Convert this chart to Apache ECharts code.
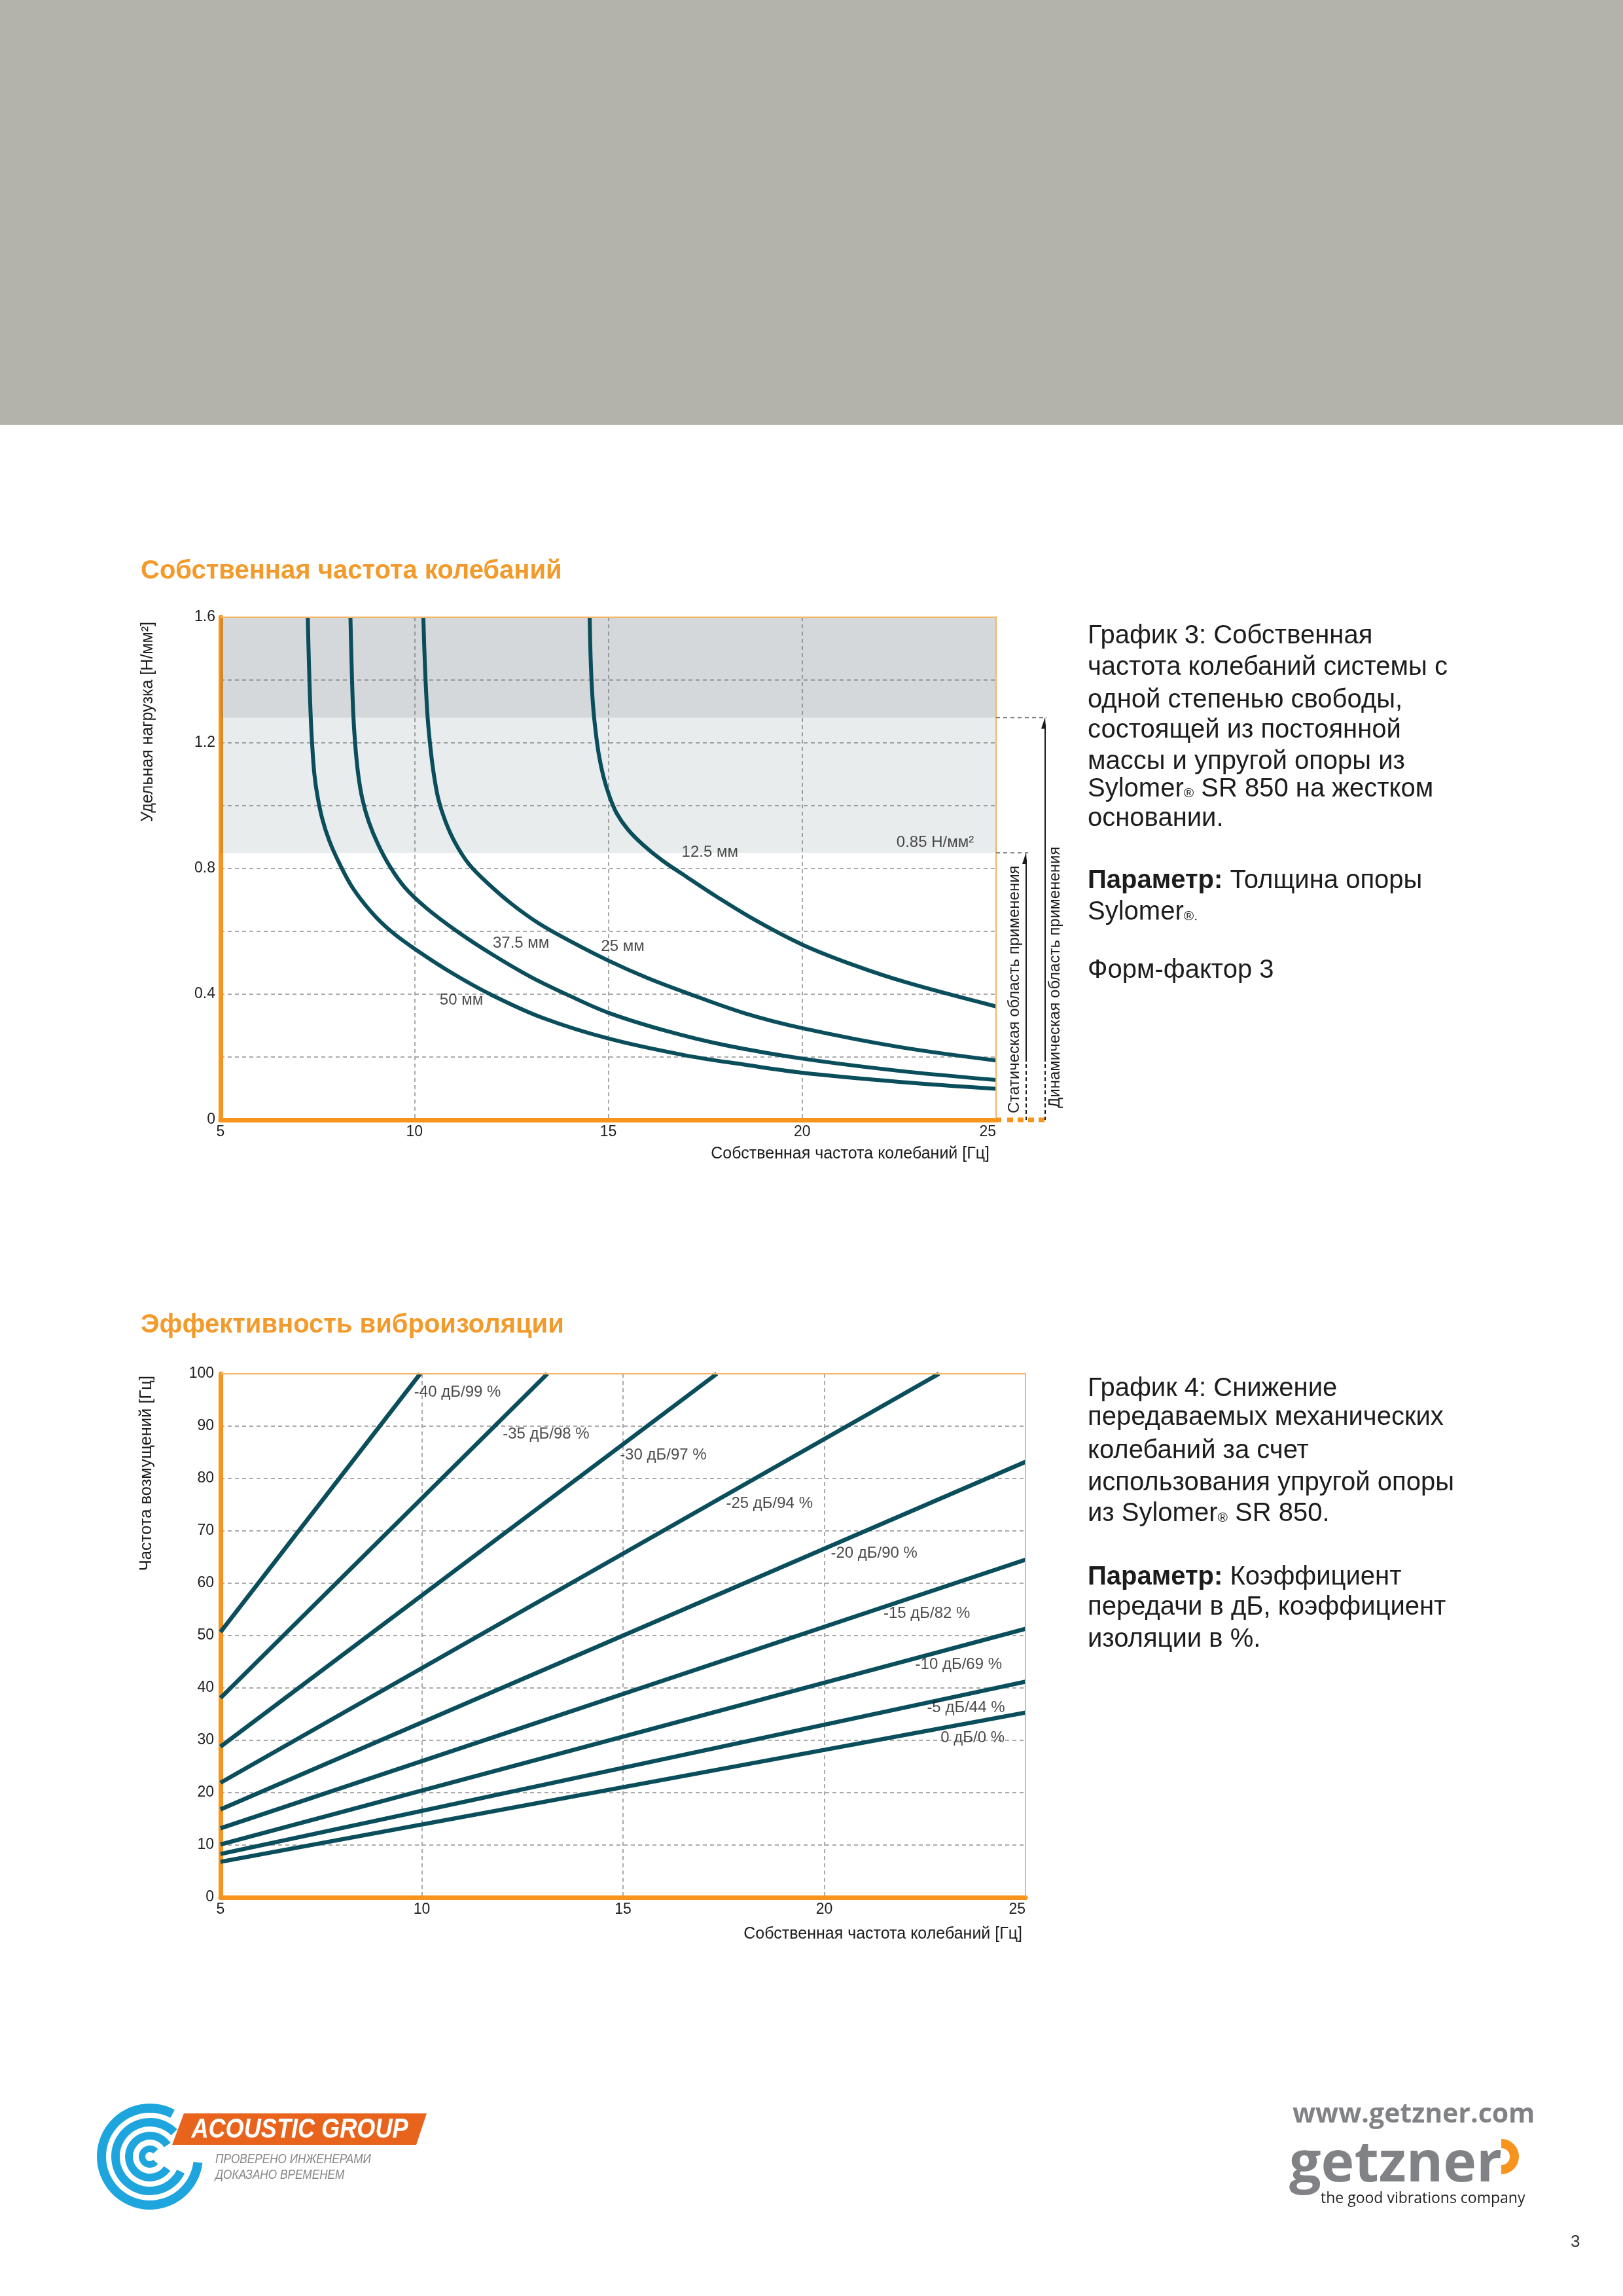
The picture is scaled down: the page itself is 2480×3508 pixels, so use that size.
<!DOCTYPE html>
<html><head><meta charset="utf-8">
<script src="https://cdn.jsdelivr.net/npm/echarts/dist/echarts.min.js"></script>
<style>html,body{margin:0;padding:0;background:#fff;}#page{width:2480px;height:3508px;}</style>
</head><body><div id="page"></div>
<script>
// ---------------- DATA ----------------
// Chart 3: natural frequency [Hz] (x) vs specific load [N/mm2] (y)
const freqTicks = [5, 10, 15, 20, 25];
const loadTickLabels = [0, 0.4, 0.8, 1.2, 1.6];
const curveNames = ['50 мм', '37.5 мм', '25 мм', '12.5 мм'];
const curve50mm = [[7.25,1.6],[7.28,1.45],[7.32,1.3],[7.36,1.2],[7.42,1.1],[7.5,1.03],[7.62,0.96],[7.8,0.89],[8.05,0.82],[8.4,0.74],[8.9,0.66],[9.4,0.60],[10.0,0.545],[11.0,0.465],[12.0,0.397],[13.3,0.325],[15.0,0.259],[17.0,0.205],[18.5,0.176],[20.0,0.150],[22.5,0.121],[25.0,0.099]];
const curve37mm = [[8.35,1.6],[8.38,1.45],[8.42,1.3],[8.47,1.2],[8.55,1.1],[8.66,1.02],[8.82,0.95],[9.05,0.88],[9.35,0.81],[9.75,0.74],[10.3,0.675],[11.1,0.60],[12.0,0.527],[13.0,0.455],[14.0,0.395],[15.0,0.341],[16.5,0.283],[18.0,0.238],[20.0,0.195],[22.5,0.156],[25.0,0.127]];
const curve25mm = [[10.23,1.6],[10.27,1.45],[10.33,1.3],[10.4,1.2],[10.5,1.1],[10.62,1.02],[10.8,0.95],[11.05,0.882],[11.4,0.815],[11.9,0.752],[12.5,0.688],[13.2,0.626],[14.0,0.57],[15.0,0.507],[16.0,0.452],[17.0,0.405],[18.5,0.34],[20.0,0.292],[22.5,0.232],[25.0,0.189]];
const curve12mm = [[14.52,1.6],[14.55,1.45],[14.6,1.33],[14.67,1.24],[14.76,1.16],[14.88,1.09],[15.03,1.03],[15.22,0.975],[15.5,0.925],[15.9,0.875],[16.4,0.825],[17.0,0.775],[17.8,0.71],[18.8,0.635],[20.0,0.558],[21.3,0.494],[22.7,0.437],[25.0,0.361]];
const curveLabelTexts = ['50 мм', '37.5 мм', '25 мм', '12.5 мм', '0.85 Н/мм²'];
const curveLabelX = [10.65, 12.02, 14.81, 16.89, 22.43];
const curveLabelY = [0.38, 0.562, 0.552, 0.851, 0.883];
const staticLimit = 0.85;
const dynamicLimit = 1.28;
const loadMax = 1.6;

// Chart 4: natural frequency [Hz] (x) vs excitation frequency [Hz] (y)
const excitTickLabels = [0, 10, 20, 30, 40, 50, 60, 70, 80, 90, 100];
const isoNames = ['0 дБ/0 %', '-5 дБ/44 %', '-10 дБ/69 %', '-15 дБ/82 %', '-20 дБ/90 %', '-25 дБ/94 %', '-30 дБ/97 %', '-35 дБ/98 %', '-40 дБ/99 %'];
const isoStartX = [5, 5, 5, 5, 5, 5, 5, 5, 5];
const isoStartY = [6.8, 8.3, 10.1, 13.2, 16.8, 21.9, 28.8, 38.1, 50.7];
const isoEndX = [25, 25, 25, 25, 25, 22.85, 17.33, 13.12, 9.96];
const isoEndY = [35.3, 41.2, 51.3, 64.5, 83.2, 100, 100, 100, 100];
const isoLabelX = [22.89, 22.55, 22.26, 21.47, 20.16, 17.56, 14.92, 12.01, 9.81];
const isoLabelY = [30.4, 36.2, 44.4, 54.2, 65.7, 75.2, 84.4, 88.5, 96.4];

// ---------------- STYLE ----------------
const FONT = '"Liberation Sans", Arial, sans-serif';
const ORANGE = '#f7941d';
const TEAL = '#0b4e5b';
const TXT = '#1c1c1c';

const chart = echarts.init(document.getElementById('page'), null, {renderer: 'canvas', width: 2480, height: 3508});

const gridLine = {show: true, showMinLine: false, showMaxLine: false, lineStyle: {color: '#8e8e8e', width: 1.5, type: [6, 5]}};
const labelStyle = {color: TXT, fontSize: 23, fontFamily: FONT};

function xAxisCfg(gi) {
  return {
    gridIndex: gi, type: 'value', min: freqTicks[0], max: freqTicks[freqTicks.length - 1], interval: 5,
    axisLine: {show: true, onZero: false, lineStyle: {color: ORANGE, width: 7}},
    axisTick: {show: false}, splitLine: gridLine,
    axisLabel: Object.assign({margin: 7, alignMaxLabel: 'right',
      formatter: v => freqTicks.includes(v) ? String(v) : ''}, labelStyle)
  };
}

const series = [];
// shaded application ranges
series.push({
  type: 'line', xAxisIndex: 0, yAxisIndex: 0, z: 1, data: [[5, 0]], showSymbol: false,
  lineStyle: {opacity: 0}, silent: true,
  markArea: {silent: true, data: [
    [{yAxis: staticLimit, itemStyle: {color: 'rgba(25,65,75,0.10)'}}, {yAxis: dynamicLimit}],
    [{yAxis: dynamicLimit, itemStyle: {color: 'rgba(83,99,107,0.25)'}}, {yAxis: loadMax}]
  ]}
});
[curve50mm, curve37mm, curve25mm, curve12mm].forEach((d, i) => {
  series.push({type: 'line', name: curveNames[i], xAxisIndex: 0, yAxisIndex: 0, z: 3, data: d,
    showSymbol: false, smooth: 0.35, lineStyle: {color: TEAL, width: 6, join: 'round'}, clip: true});
});
series.push({type: 'scatter', xAxisIndex: 0, yAxisIndex: 0, z: 4, symbolSize: 0.1,
  itemStyle: {color: 'rgba(0,0,0,0)'},
  data: curveLabelTexts.map((t, i) => ({name: t, value: [curveLabelX[i], curveLabelY[i]]})),
  label: {show: true, position: 'right', distance: 0, formatter: '{b}', color: TXT, fontSize: 24, fontFamily: FONT}
});
isoNames.forEach((n, i) => {
  series.push({type: 'line', name: n, xAxisIndex: 1, yAxisIndex: 1, z: 3,
    data: [[isoStartX[i], isoStartY[i]], [isoEndX[i], isoEndY[i]]],
    showSymbol: false, lineStyle: {color: TEAL, width: 6.5}, clip: true});
});
series.push({type: 'scatter', xAxisIndex: 1, yAxisIndex: 1, z: 4, symbolSize: 0.1,
  itemStyle: {color: 'rgba(0,0,0,0)'},
  data: isoNames.map((t, i) => ({name: t, value: [isoLabelX[i], isoLabelY[i]]})),
  label: {show: true, position: 'right', distance: 0, formatter: '{b}', color: TXT, fontSize: 24, fontFamily: FONT}
});

const option = {
  backgroundColor: '#ffffff',
  animation: false,
  grid: [
    {left: 337, top: 943, width: 1185, height: 768, show: true, borderColor: '#f6b465', borderWidth: 2, containLabel: false, outerBoundsMode: 'none'},
    {left: 337, top: 2099, width: 1230, height: 800, show: true, borderColor: '#f6b465', borderWidth: 2, containLabel: false, outerBoundsMode: 'none'}
  ],
  xAxis: [xAxisCfg(0), xAxisCfg(1)],
  yAxis: [
    {gridIndex: 0, type: 'value', min: 0, max: loadMax, interval: 0.2,
      axisLine: {show: true, onZero: false, lineStyle: {color: ORANGE, width: 7}},
      axisTick: {show: false}, splitLine: gridLine,
      axisLabel: Object.assign({margin: 8, formatter: v => loadTickLabels.some(t => Math.abs(t - v) < 1e-6) ? String(Math.round(v * 10) / 10) : ''}, labelStyle)},
    {gridIndex: 1, type: 'value', min: 0, max: 100, interval: 10,
      axisLine: {show: true, onZero: false, lineStyle: {color: ORANGE, width: 7}},
      axisTick: {show: false}, splitLine: gridLine,
      axisLabel: Object.assign({margin: 10, formatter: v => excitTickLabels.includes(v) ? String(v) : ''}, labelStyle)}
  ],
  series: series
};
chart.setOption(option);

// ---------------- PAGE DECORATION ----------------
const P = (gi, x, y) => chart.convertToPixel({gridIndex: gi}, [x, y]);
const g = [];
let gid = 0;
function txt(x, y, text, o) {
  o = o || {};
  g.push({type: 'text', id: 't' + (gid++), x: x, y: y, rotation: o.rotation || 0, scaleX: o.scaleX || 1, z: 10,
    style: {text: text, fill: o.fill || TXT, fontSize: o.fontSize || 24, fontFamily: o.fontFamily || FONT,
      fontWeight: o.fontWeight || 'normal', fontStyle: o.fontStyle || 'normal',
      textAlign: o.align || 'left', textVerticalAlign: o.valign || 'middle', rich: o.rich}});
}
function line(x1, y1, x2, y2, stroke, w, dash) {
  g.push({type: 'line', id: 'l' + (gid++), z: 10, shape: {x1, y1, x2, y2},
    style: {stroke: stroke, lineWidth: w, lineDash: dash || null}});
}
function poly(points, fill) {
  g.push({type: 'polygon', id: 'p' + (gid++), z: 10, shape: {points: points}, style: {fill: fill}});
}

// top gray band
g.push({type: 'rect', id: 'band', z: 0, shape: {x: 0, y: 0, width: 2480, height: 649}, style: {fill: '#b3b3aa'}});

// titles
txt(215, 873, 'Собственная частота колебаний', {fill: '#f39a2b', fontSize: 40, fontWeight: 'bold'});
txt(215, 2025, 'Эффективность виброизоляции', {fill: '#f39a2b', fontSize: 40, fontWeight: 'bold'});

// thin top/right plot borders drawn above grid lines
[0, 1].forEach(gi => {
  const tl = P(gi, 5, gi === 0 ? loadMax : 100), br = P(gi, 25, 0);
  line(tl[0], tl[1], br[0], tl[1], '#f6b465', 2);
  line(br[0], tl[1], br[0], br[1], '#f6b465', 2);
});

// axis names
txt(226, 950, 'Удельная нагрузка [Н/мм²]', {rotation: Math.PI / 2, align: 'right', fontSize: 25});
txt(224, 2102, 'Частота возмущений [Гц]', {rotation: Math.PI / 2, align: 'right', fontSize: 25.5});
const b0 = P(0, 25, 0), b1 = P(1, 25, 0);
txt(b0[0] - 10, b0[1] + 52, 'Собственная частота колебаний [Гц]', {align: 'right', fontSize: 25});
txt(b1[0] - 5, b1[1] + 56, 'Собственная частота колебаний [Гц]', {align: 'right', fontSize: 25});

// application range annotation (chart 3)
const ys = P(0, 25, staticLimit)[1], yd = P(0, 25, dynamicLimit)[1], xr = b0[0], y0 = b0[1];
const xs = xr + 46, xd = xr + 75;
line(xr, ys, xs + 3, ys, '#666', 1.5, [6, 5]);
line(xr, yd, xd + 3, yd, '#666', 1.5, [6, 5]);
line(xs, ys + 10, xs, y0 - 95, '#1a1a1a', 2);
line(xs, y0 - 95, xs, y0, '#1a1a1a', 2, [6, 4]);
line(xd, yd + 10, xd, y0 - 95, '#1a1a1a', 2);
line(xd, y0 - 95, xd, y0, '#1a1a1a', 2, [6, 4]);
poly([[xs, ys - 1], [xs - 6, ys + 17], [xs + 1, ys + 17]], '#1a1a1a');
poly([[xd, yd - 1], [xd - 6, yd + 17], [xd + 1, yd + 17]], '#1a1a1a');
line(xr, y0, xr + 8, y0, ORANGE, 7);
line(xr + 17, y0, xd, y0, ORANGE, 7, [9, 7]);
txt(xs - 18, y0 - 10, 'Статическая область применения', {rotation: Math.PI / 2, fontSize: 24});
txt(xd + 15, y0 - 18, 'Динамическая область применения', {rotation: Math.PI / 2, fontSize: 24});

// right-hand descriptive texts
const rich = {
  n: {fontSize: 40, fontFamily: FONT, fill: TXT},
  b: {fontSize: 40, fontFamily: FONT, fontWeight: 'bold', fill: TXT},
  r: {fontSize: 21, fontFamily: FONT, fill: TXT, padding: [13, 0, 0, 0]}
};
function para(x, ys2, lines) {
  lines.forEach((l, i) => txt(x, ys2[i], l, {rich: rich, fontSize: 40}));
}
para(1662, [972, 1020, 1070, 1116, 1164, 1206, 1251, 1346, 1394, 1483], [
  '{n|График 3: Собственная}',
  '{n|частота колебаний системы с}',
  '{n|одной степенью свободы,}',
  '{n|состоящей из постоянной}',
  '{n|массы и упругой опоры из}',
  '{n|Sylomer}{r|®}{n| SR 850 на жестком}',
  '{n|основании.}',
  '{b|Параметр:}{n| Толщина опоры}',
  '{n|Sylomer}{r|®.}',
  '{n|Форм-фактор 3}'
]);
para(1662, [2122, 2166, 2217, 2266, 2313, 2410, 2456, 2505], [
  '{n|График 4: Снижение}',
  '{n|передаваемых механических}',
  '{n|колебаний за счет}',
  '{n|использования упругой опоры}',
  '{n|из Sylomer}{r|®}{n| SR 850.}',
  '{b|Параметр:}{n| Коэффициент}',
  '{n|передачи в дБ, коэффициент}',
  '{n|изоляции в %.}'
]);

// Acoustic Group logo
const BLUE = '#1ea5de';
const cx = 229, cy = 3295;
[[67, 81, 0.12, 5.2], [46, 59, 0.45, 5.5], [26, 38, 0.6, 5.7], [7, 17, 0.75, 5.55]].forEach((r, i) => {
  g.push({type: 'sector', id: 'ring' + i, z: 10, shape: {cx: cx, cy: cy, r0: r[0], r: r[1], startAngle: r[2], endAngle: r[3], clockwise: true}, style: {fill: BLUE}});
});
poly([[281, 3229], [652, 3229], [636, 3277], [263, 3277]], '#e8631c');
txt(458, 3254, 'ACOUSTIC GROUP', {fill: '#ffffff', fontSize: 42, fontWeight: 'bold', fontStyle: 'italic', align: 'center', scaleX: 0.86});
txt(329, 3299, 'ПРОВЕРЕНО ИНЖЕНЕРАМИ', {fill: '#858585', fontSize: 20, fontStyle: 'italic', scaleX: 0.86});
txt(329, 3323, 'ДОКАЗАНО ВРЕМЕНЕМ', {fill: '#858585', fontSize: 20, fontStyle: 'italic', scaleX: 0.86});

// getzner logo
txt(1975, 3231, 'www.getzner.com', {fill: '#808285', fontSize: 41, fontWeight: 'bold', fontFamily: '"Open Sans", sans-serif'});
txt(1970, 3308, 'getzner', {fill: '#808285', fontSize: 86, fontWeight: 'bold', fontFamily: '"Open Sans", sans-serif'});
g.push({type: 'sector', id: 'gz', z: 10, shape: {cx: 2294, cy: 3295, r0: 13, r: 27, startAngle: -Math.PI / 2, endAngle: Math.PI / 2, clockwise: true}, style: {fill: ORANGE}});
txt(2018, 3359, 'the good vibrations company', {fill: '#231f20', fontSize: 23, fontFamily: '"Open Sans", sans-serif'});

// page number
txt(2400, 3426, '3', {fill: '#333', fontSize: 26});

chart.setOption({graphic: g});
</script>
</body></html>
